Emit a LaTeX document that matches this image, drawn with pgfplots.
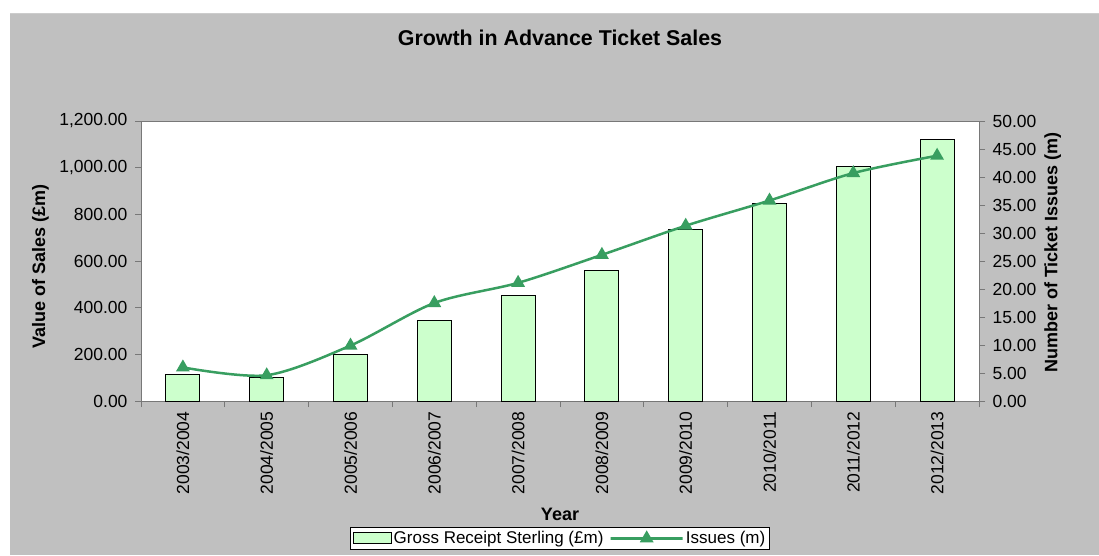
\documentclass[border=0pt]{standalone}
\usepackage{pgfplots}
\pgfplotsset{compat=1.18}
\usepackage{fontspec}
\setmainfont{Liberation Sans}
\definecolor{bg}{RGB}{192,192,192}
\definecolor{barfill}{RGB}{204,255,204}
\definecolor{linegreen}{RGB}{56,158,96}
\definecolor{axgray}{RGB}{120,120,120}

\pgfplotsset{
  common/.style={
    at={(141pt,154pt)}, anchor=south west,
    width=838pt, height=280pt, scale only axis,
    xmin=-0.5, xmax=9.5,
    /pgf/number format/assume math mode=true,
    tick label style={font=\fontsize{17.5}{20}\selectfont, black},
    tick align=outside,
    major tick length=6pt,
    tick style={axgray, line width=0.8pt},
    axis line style={axgray, line width=1pt},
    label style={font=\bfseries\fontsize{18}{21}\selectfont},
    scaled y ticks=false,
    yticklabel shift=4pt,
    yticklabel style={/pgf/number format/fixed, /pgf/number format/fixed zerofill,
      /pgf/number format/precision=2, /pgf/number format/1000 sep={,}},
  },
  barlegend/.style={legend image code/.code={\draw[##1] (0pt,-5pt) rectangle (38pt,6pt);}},
  linelegend/.style={legend image code/.code={\draw[##1, mark repeat=2, mark phase=2] plot coordinates {(0pt,0pt) (19pt,0pt) (38pt,0pt)};}},
}

\begin{document}
\begin{tikzpicture}[x=1pt,y=1pt]
\useasboundingbox (0,0) rectangle (1099,555);
\fill[white] (0,0) rectangle (1099,555);
\fill[bg] (10,0) rectangle (1099,541);
\draw[gray!40, line width=1pt] (10,541.5) -- (1099,541.5);

\begin{axis}[
  common,
  ymin=0, ymax=1200,
  ytick={0,200,...,1200},
  axis background/.style={fill=white},
  xtick={-0.5,0.5,...,9.5},
  xticklabels={},
  extra x ticks={0,1,2,3,4,5,6,7,8,9},
  extra x tick labels={2003/2004,2004/2005,2005/2006,2006/2007,2007/2008,2008/2009,2009/2010,2010/2011,2011/2012,2012/2013},
  extra x tick style={major tick length=0pt, xticklabel shift=7pt, tick label style={rotate=90, anchor=east}},
  xtick pos=bottom, ytick pos=left,
  ybar, bar width=34pt, bar shift=0pt,
  title={Growth in Advance Ticket Sales},
  title style={at={(axis description cs:0.5,1.275)}, anchor=center, font=\bfseries\fontsize{21.4}{25}\selectfont},
  xlabel={Year},
  xlabel style={at={(axis description cs:0.5,-0.404)}, anchor=center},
  ylabel={Value of Sales (£m)},
  ylabel style={at={(axis description cs:-0.12,0.48)}, anchor=center},
  legend style={at={(axis description cs:0.5,-0.45)}, anchor=north, legend columns=2,
    draw=black, fill=white, line width=0.8pt, font=\fontsize{17}{20}\selectfont,
    /tikz/every even column/.append style={column sep=4pt}, inner sep=2pt},
]
\addplot[fill=barfill, draw=black, line width=1pt, barlegend]
  coordinates {(0,114) (1,101) (2,201) (3,347) (4,451) (5,561) (6,736) (7,847) (8,1004) (9,1121)};
\addlegendentry{Gross Receipt Sterling (£m)}
\addlegendimage{linegreen, line width=2.5pt, mark=triangle*, mark size=5.5pt, linelegend}
\addlegendentry{Issues (m)}
\end{axis}

\begin{axis}[
  common,
  ymin=0, ymax=50,
  ytick={0,5,...,50},
  axis x line=none,
  axis y line*=right,
  ylabel={Number of Ticket Issues (m)},
  ylabel style={at={(axis description cs:1.088,0.53)}, anchor=center},
]
\addplot[linegreen, line width=2.5pt, smooth, mark=triangle*, mark size=5.5pt, mark options={solid}]
  coordinates {(0,6.0) (1,4.6) (2,9.9) (3,17.5) (4,21.1) (5,26.1) (6,31.3) (7,35.8) (8,40.7) (9,43.8)};
\end{axis}
\end{tikzpicture}
\end{document}
